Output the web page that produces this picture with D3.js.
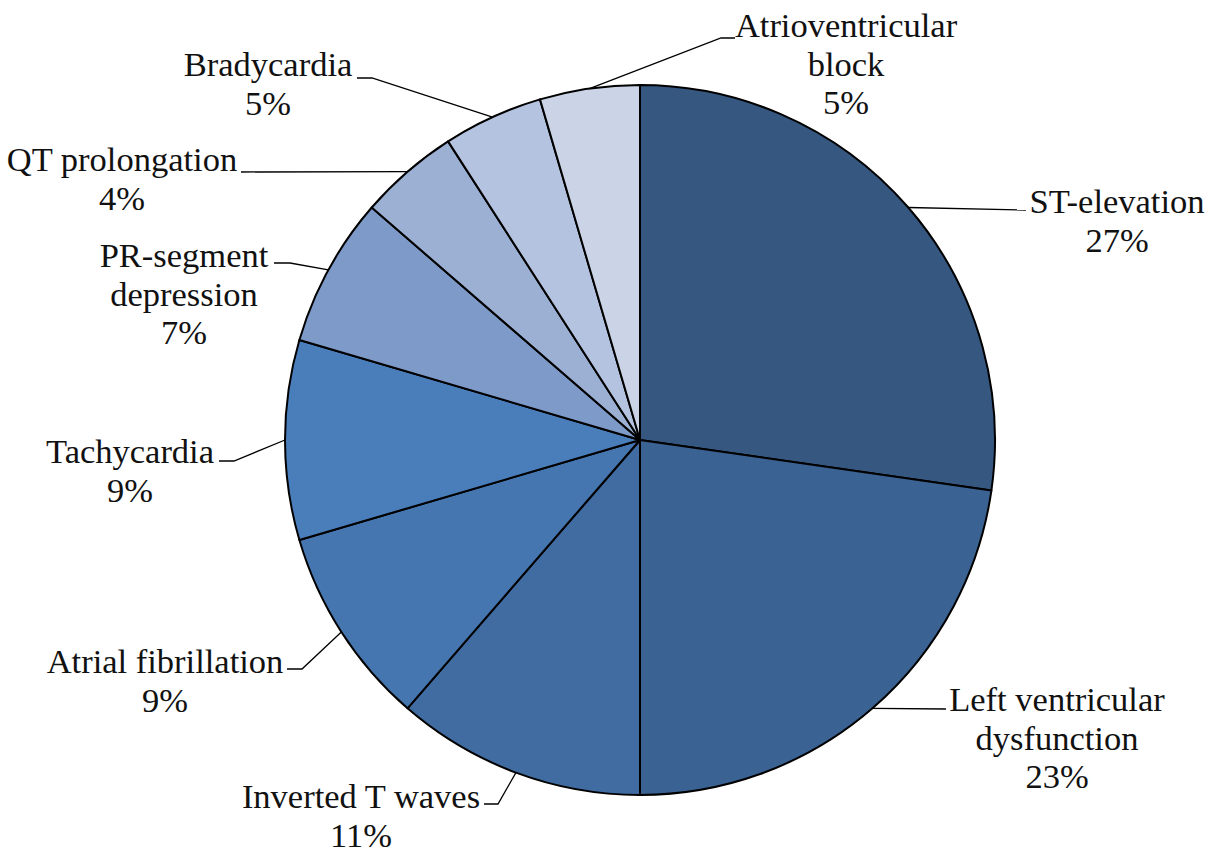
<!DOCTYPE html>
<html>
<head>
<meta charset="utf-8">
<script src="https://cdn.jsdelivr.net/npm/d3@7"></script>
<style>
    body { margin: 0; background: #fff; }
    svg { display: block; }
    .label { font-family: "Liberation Serif", "Times New Roman", Times, "DejaVu Serif", serif; font-size: 34.5px; }
</style>
</head>
<body>
<div id="chart"></div>
<script>
// slices, clockwise from 12 o'clock (counts)
const categories = [
    ["ST-elevation"],
    ["Left ventricular", "dysfunction"],
    ["Inverted T waves"],
    ["Atrial fibrillation"],
    ["Tachycardia"],
    ["PR-segment", "depression"],
    ["QT prolongation"],
    ["Bradycardia"],
    ["Atrioventricular", "block"]
];
const values = [12, 10, 5, 4, 4, 3, 2, 2, 2];
const percentLabels = ["27%", "23%", "11%", "9%", "9%", "7%", "4%", "5%", "5%"];
const colors = ["#355780", "#3a6293", "#406ca2", "#4676af", "#4a7ebb",
                "#7e9ac8", "#9cb0d4", "#b4c3df", "#cbd4e6"];

// label placement: text centre x, first baseline y, leader elbow x/y, leader end x
const labelLayout = [
    [1117, 213, 1026, 210, 1026],
    [1057, 711, 946, 709, 946],
    [361, 808, 498, 804, 484],
    [165, 673, 302, 669, 287],
    [130, 463, 234, 461, 219],
    [184, 267, 290, 263, 274],
    [122, 171, 241, 172, 241],
    [268, 76, 372, 78, 357],
    [846, 37, 721, 38, 735]
];

const width = 1220, height = 853;
const cx = 640, cy = 440, radius = 355;
const lineHeight = 38.5;

const svg = d3.select("#chart")
    .append("svg")
    .attr("width", width)
    .attr("height", height);

const g = svg.append("g")
    .attr("transform", `translate(${cx}, ${cy})`);

const pie = d3.pie()
    .sort(null)
    .value(d => d);

const arcs = pie(values);

const arc = d3.arc()
    .innerRadius(0)
    .outerRadius(radius);

g.selectAll("path")
    .data(arcs)
    .join("path")
    .attr("d", arc)
    .attr("fill", (d, i) => colors[i])
    .attr("stroke", "#000")
    .attr("stroke-width", 2)
    .attr("stroke-linejoin", "round");

// leader lines start on the rim at each slice's mid angle
function rimPoint(d) {
    const a = (d.startAngle + d.endAngle) / 2;
    return [cx + radius * Math.sin(a), cy - radius * Math.cos(a)];
}

svg.selectAll("polyline.leader")
    .data(arcs)
    .join("polyline")
    .attr("class", "leader")
    .attr("points", (d, i) => {
        const p = rimPoint(d);
        const l = labelLayout[i];
        return [p, [l[2], l[3]], [l[4], l[3]]].map(q => q.join(",")).join(" ");
    })
    .attr("fill", "none")
    .attr("stroke", "#000")
    .attr("stroke-width", 1.3);

// labels: category lines then percentage
const labels = svg.selectAll("text.label")
    .data(arcs)
    .join("text")
    .attr("class", "label")
    .attr("text-anchor", "middle")
    .attr("fill", "#111");

labels.each(function (d, i) {
    const lines = categories[i].concat([percentLabels[i]]);
    const l = labelLayout[i];
    d3.select(this)
        .selectAll("tspan")
        .data(lines)
        .join("tspan")
        .attr("x", l[0])
        .attr("y", (s, j) => l[1] + j * lineHeight)
        .text(s => s);
});
</script>
</body>
</html>
